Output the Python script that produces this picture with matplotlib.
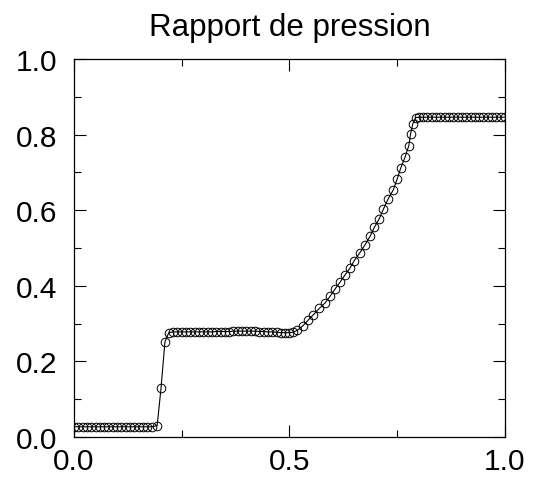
import numpy as np
import matplotlib
matplotlib.use('Agg')
import matplotlib.pyplot as plt
from matplotlib.ticker import MultipleLocator

plt.rcParams['font.family'] = ['Liberation Sans', 'DejaVu Sans']

# position le long du tube
x = [0.000, 0.010, 0.020, 0.030, 0.040, 0.050, 0.060, 0.070, 0.080, 0.090,
     0.100, 0.110, 0.120, 0.130, 0.140, 0.150, 0.160, 0.170, 0.180, 0.193,
     0.202, 0.211, 0.220,
     0.230, 0.240, 0.250, 0.260, 0.270, 0.280, 0.290, 0.300, 0.310, 0.320,
     0.330, 0.340, 0.350, 0.360, 0.370, 0.380, 0.390, 0.400, 0.410, 0.420,
     0.430, 0.440, 0.450, 0.460, 0.470, 0.480, 0.490, 0.500, 0.508,
     0.518, 0.531, 0.544, 0.555, 0.569, 0.582, 0.594, 0.606, 0.617, 0.629,
     0.640, 0.650, 0.663, 0.675, 0.687, 0.697, 0.708, 0.718, 0.729, 0.741,
     0.750, 0.758, 0.768, 0.777, 0.781, 0.786,
     0.793, 0.800, 0.810, 0.820, 0.830, 0.840, 0.850, 0.860, 0.870, 0.880,
     0.890, 0.900, 0.910, 0.920, 0.930, 0.940, 0.950, 0.960, 0.970, 0.980,
     0.990, 1.000]

# rapport de pression
p = [0.027, 0.027, 0.027, 0.027, 0.027, 0.027, 0.027, 0.027, 0.027, 0.027,
     0.027, 0.027, 0.027, 0.027, 0.027, 0.027, 0.027, 0.027, 0.027, 0.030,
     0.130, 0.252, 0.276,
     0.278, 0.278, 0.278, 0.278, 0.278, 0.278, 0.278, 0.278, 0.278, 0.278,
     0.279, 0.279, 0.279, 0.279, 0.280, 0.280, 0.280, 0.280, 0.280, 0.280,
     0.279, 0.279, 0.278, 0.278, 0.277, 0.276, 0.276, 0.276, 0.277,
     0.282, 0.294, 0.310, 0.323, 0.340, 0.354, 0.372, 0.392, 0.409, 0.429,
     0.446, 0.466, 0.487, 0.508, 0.531, 0.555, 0.577, 0.603, 0.630, 0.654,
     0.683, 0.711, 0.740, 0.771, 0.802, 0.828,
     0.845, 0.846, 0.846, 0.846, 0.846, 0.846, 0.846, 0.846, 0.846, 0.846,
     0.846, 0.846, 0.846, 0.846, 0.846, 0.846, 0.846, 0.846, 0.846, 0.846,
     0.846, 0.846]

fig = plt.figure(figsize=(5.35, 4.81), dpi=100)
ax = fig.add_axes([0.1383, 0.0894, 0.8056, 0.7859])

ax.plot(x, p, color='black', linewidth=0.8, marker='o', markersize=6.2,
        markerfacecolor='none', markeredgecolor='black', markeredgewidth=0.7)

ax.set_xlim(0, 1)
ax.set_ylim(0, 1)
ax.xaxis.set_major_locator(MultipleLocator(0.5))
ax.xaxis.set_minor_locator(MultipleLocator(0.25))
ax.yaxis.set_major_locator(MultipleLocator(0.2))
ax.yaxis.set_minor_locator(MultipleLocator(0.1))
ax.xaxis.set_major_formatter(lambda v, pos: f'{v:.1f}')
ax.yaxis.set_major_formatter(lambda v, pos: f'{v:.1f}')

ax.tick_params(which='both', direction='in', top=True, right=True, width=0.8)
ax.tick_params(which='major', length=8.6, labelsize=21.5)
ax.tick_params(which='minor', length=5)
ax.tick_params(axis='y', which='major', pad=12)
ax.tick_params(axis='x', which='major', pad=7)
for s in ax.spines.values():
    s.set_linewidth(0.9)

ax.set_title('Rapport de pression', fontsize=22.5, pad=17)

fig.savefig('out.png', dpi=100)
